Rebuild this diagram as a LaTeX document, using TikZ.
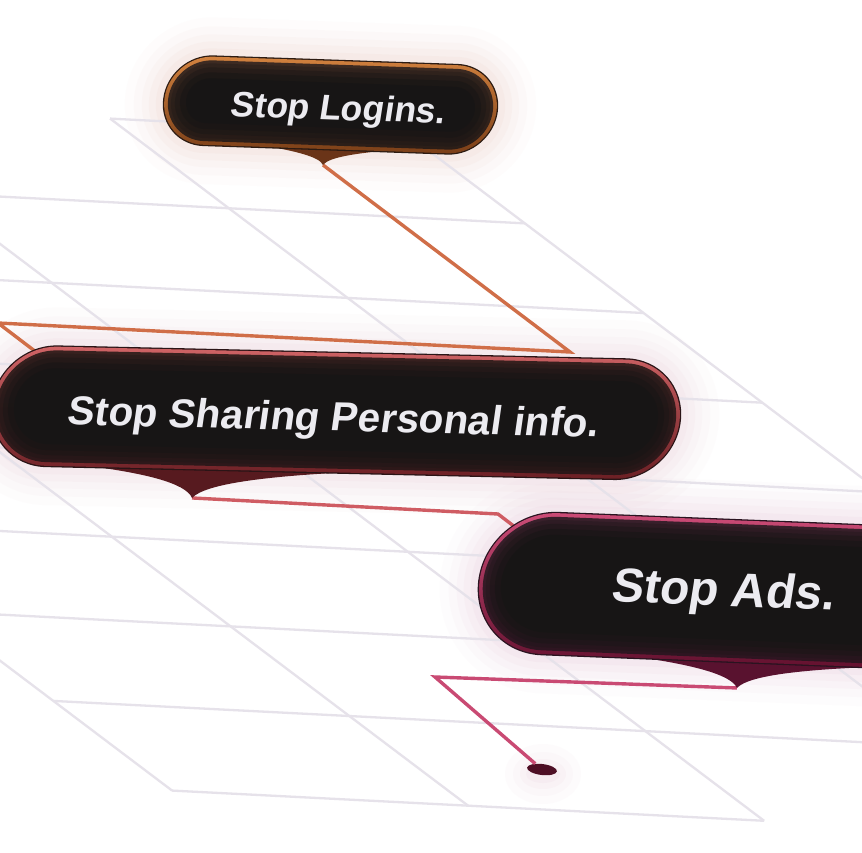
\documentclass[tikz,border=0pt]{standalone}
\usepackage{fontspec}
\setmainfont{Liberation Sans}
\usetikzlibrary{shapes.geometric}
\definecolor{gridc}{HTML}{E6E2EA}
\definecolor{boxDark}{HTML}{171515}
\definecolor{txtc}{HTML}{ECEBF0}
\definecolor{dotc}{HTML}{4E0F25}
\definecolor{logTop}{HTML}{D2823F}
\definecolor{logBot}{HTML}{7A3E17}
\definecolor{logOutline}{HTML}{2C1B12}
\definecolor{logTail}{HTML}{6A3418}
\definecolor{logTintT}{HTML}{3D2B22}
\definecolor{logTintB}{HTML}{2B1D17}
\definecolor{logHalo}{HTML}{EED5CC}
\definecolor{logConn}{HTML}{D06E48}
\definecolor{shaTop}{HTML}{D06466}
\definecolor{shaBot}{HTML}{6B1F24}
\definecolor{shaOutline}{HTML}{2A1416}
\definecolor{shaTail}{HTML}{571A1F}
\definecolor{shaTintT}{HTML}{38211F}
\definecolor{shaTintB}{HTML}{2C1719}
\definecolor{shaHalo}{HTML}{EDD2DC}
\definecolor{shaConn}{HTML}{CF5C63}
\definecolor{adsTop}{HTML}{CC4C77}
\definecolor{adsBot}{HTML}{62102E}
\definecolor{adsOutline}{HTML}{2A1320}
\definecolor{adsTail}{HTML}{59122F}
\definecolor{adsTintT}{HTML}{39202B}
\definecolor{adsTintB}{HTML}{2D1420}
\definecolor{adsHalo}{HTML}{EBCFDD}
\definecolor{adsConn}{HTML}{C94A73}

\newcommand\boxhalo[3]{%
  \foreach \hw/\ho in {76/0.06,58/0.08,42/0.1,28/0.13,14/0.17}{%
    \draw[draw=#3, line width=\hw pt, opacity=\ho, pill={#1}{#2}];}}
\newcommand\pillbox[3]{%
  \fill[#3Outline, pill={#1}{#2}];
  \shade[top color=#3Top, bottom color=#3Bot, pill={#1}{#2-1.3}];
  \shade[top color=#3TintT, bottom color=#3TintB, pill={#1}{#2-5}];
  \fill[boxDark, opacity=.3, pill={#1}{#2-8}];
  \fill[boxDark, opacity=.4, pill={#1}{#2-12}];
  \fill[boxDark, opacity=.55, pill={#1}{#2-17}];
  \fill[boxDark, pill={#1}{#2-23}];}

\begin{document}
\begin{tikzpicture}[x=1pt,y=-1pt,
  pill/.style 2 args={insert path={(-#1,{-(#2)}) -- (#1,{-(#2)}) arc[start angle=-90,end angle=90,radius={#2}] -- (-#1,{#2}) arc[start angle=90,end angle=270,radius={#2}] -- cycle}},
  tailshape/.style n args={5}{insert path={({#1-#4},{#2-3}) .. controls ({#1-0.45*#4},{#2+0.12*#3}) and ({#1-0.07*#4},{#2+0.45*#3}) .. ({#1},{#2+#3}) .. controls ({#1+0.07*#5},{#2+0.45*#3}) and ({#1+0.45*#5},{#2+0.12*#3}) .. ({#1+#5},{#2-3}) -- cycle}},
  gridline/.style={draw=gridc, line width=2.3pt},
  conn/.style={line width=3.4pt, line join=miter, miter limit=20},
  boxtext/.style={text=txtc, inner sep=0pt, anchor=base, transform shape, xslant=0.04},
  dotnode/.style={ellipse, fill=dotc, minimum width=30pt, minimum height=11pt, inner sep=0pt, rotate=-7},
  logframe/.style={shift={(330.5,105)}, rotate=-2, xslant=0.08},
  shaframe/.style={shift={(336,412.7)}, rotate=-1.3, xslant=0.08},
  adsframe/.style={shift={(722,590.5)}, rotate=-2.3, xslant=0.08}]
\useasboundingbox (0,0) rectangle (862,853);
\fill[white] (0,0) rectangle (862,853);

% halos and tip coordinates
\begin{scope}[logframe]
  \boxhalo{122}{45.5}{logHalo}
  \coordinate (loginsTip) at (-0.6,60.2);
\end{scope}
\begin{scope}[shaframe]
  \boxhalo{284}{61}{shaHalo}
  \coordinate (sharingTip) at (-134.9,88.5);
\end{scope}
\begin{scope}[adsframe]
  \boxhalo{172}{72}{adsHalo}
  \coordinate (adsTip) at (26.6,96.8);
\end{scope}
\foreach \rr/\ho in {30/0.07,22/0.09,15/0.12,9/0.16}{%
  \fill[adsHalo, opacity=\ho] (543,774) ellipse[x radius={\rr+8}, y radius={\rr}];}

% grid
\begin{scope}[shift={(406.1,133.7)}, x={(296pt,-15.1pt)}, y={(118.75pt,-89.66pt)}]
  \draw[gridline] (-1,0) -- (0,0);
  \foreach \j in {1,...,6}{\draw[gridline] (-5,\j) -- (0,\j);}
  \draw[gridline] (-4,7) -- (0,7);
  \draw[gridline] (-4,8) -- (-2,8);
  \draw[gridline] (0,0) -- (0,4);
  \foreach \i in {-1,-2,-3,-4}{\draw[gridline] (\i,0) -- (\i,8);}
\end{scope}

% connectors
\coordinate (logBendA) at (570,352);
\coordinate (logBendB) at (-2,323);
\coordinate (logEnd) at (40,355);
\coordinate (shaBend) at (498,514);
\coordinate (shaEnd) at (545,550);
\coordinate (adsBend) at (435,677);
\node[dotnode] (dot) at (542,769.5) {};
\draw[conn, draw=logConn] (loginsTip) -- (logBendA) -- (logBendB) -- (logEnd);
\draw[conn, draw=shaConn] (sharingTip) -- (shaBend) -- (shaEnd);
\draw[conn, draw=adsConn] (adsTip) -- (adsBend) -- (dot);

% boxes
\begin{scope}[logframe]
  \fill[logTail, tailshape={-0.6}{45.5}{14.7}{64}{70}];
  \pillbox{122}{45.5}{log}
  \node[boxtext, font={\fontsize{35.5}{42}\selectfont\bfseries}] (logins) at (8.2,14.8) {Stop Logins.};
\end{scope}
\begin{scope}[shaframe]
  \fill[shaTail, tailshape={-134.9}{61}{27.5}{115}{170}];
  \pillbox{284}{61}{sha}
  \node[boxtext, font={\fontsize{40.5}{48}\selectfont\bfseries}] (sharing) at (-2.1,18.4) {Stop Sharing Personal info.};
\end{scope}
\begin{scope}[adsframe]
  \fill[adsTail, tailshape={26.6}{72}{24.8}{110}{150}];
  \pillbox{172}{72}{ads}
  \node[boxtext, font={\fontsize{48}{56}\selectfont\bfseries}] (ads) at (1.9,15.5) {Stop Ads.};
\end{scope}
\end{tikzpicture}
\end{document}
